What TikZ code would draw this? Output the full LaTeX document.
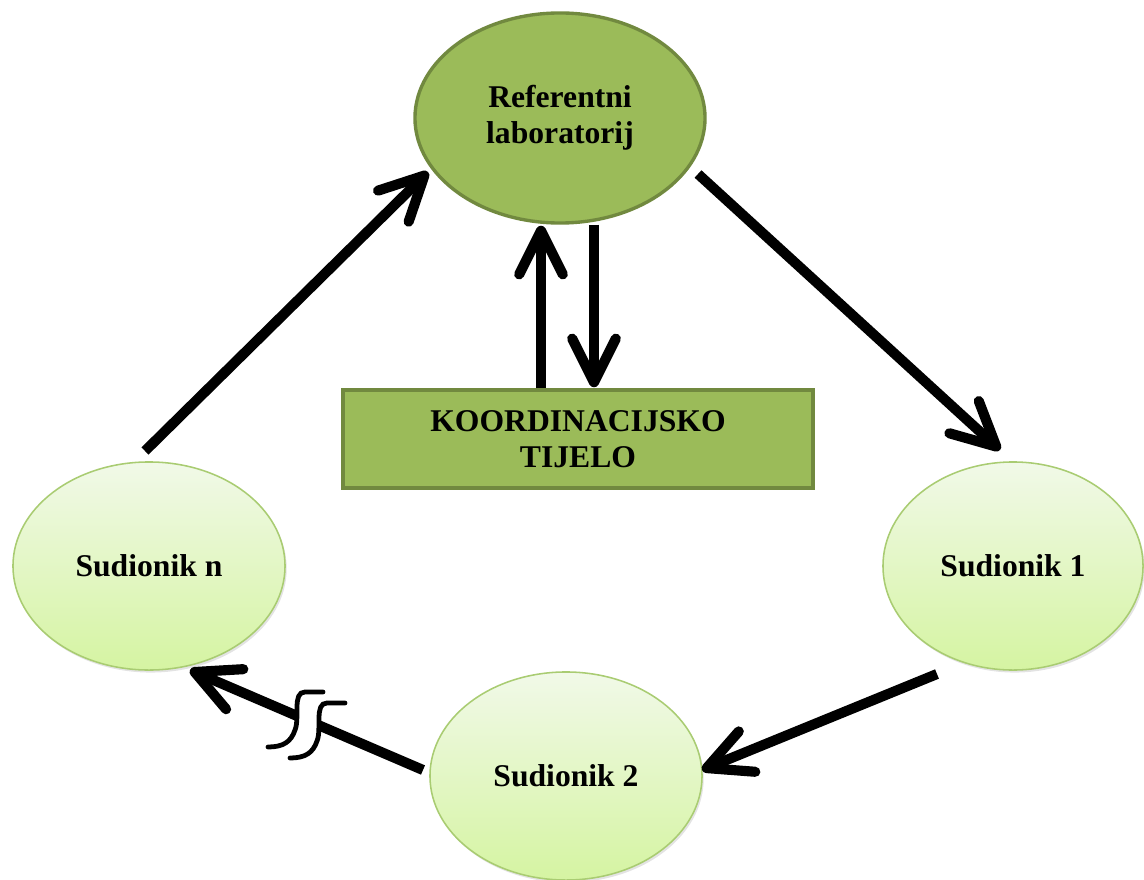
\documentclass[tikz,border=0pt]{standalone}
\usepackage{fontspec}
\setmainfont{Liberation Serif}
\usetikzlibrary{shapes.geometric,arrows.meta,shadows,calc}
\definecolor{darkfill}{HTML}{9BBB59}
\definecolor{darkline}{HTML}{71893F}
\definecolor{lighttop}{HTML}{F1F9E8}
\definecolor{lightbot}{HTML}{D5F4A2}
\definecolor{lightline}{HTML}{A9CC72}
\begin{document}
\begin{tikzpicture}[x=0.025cm,y=-0.025cm,
  lbl/.style={font=\fontsize{22.5}{25.5}\selectfont\bfseries, align=center, text=black},
  dark/.style={lbl, fill=darkfill, draw=darkline, line width=2.4pt, inner sep=0pt},
  part/.style={lbl, ellipse, inner sep=0pt, minimum width=6.8cm, minimum height=5.2cm,
    top color=lighttop, bottom color=lightbot, draw=lightline, line width=1.1pt,
    drop shadow={shadow xshift=1.2pt, shadow yshift=-1.8pt, opacity=0.22}},
  shaft/.style={line width=7.2pt},
  arr/.style={shaft, -{Straight Barb[length=31pt,width=31pt,round]}},
  brk/.style={line width=3.4pt, line cap=round}]
\useasboundingbox (0,0) rectangle (1144,880);

\node[dark, ellipse, minimum width=7.25cm, minimum height=5.25cm] (ref) at (560,118) {Referentni\\laboratorij};
\node[dark, rectangle, minimum width=11.75cm, minimum height=2.45cm] (koord) at (578,439) {KOORDINACIJSKO\\TIJELO};
\node[part] (sn) at (149,566) {Sudionik n};
\node[part, minimum width=6.5cm] (s1) at (1013,566) {Sudionik 1};
\node[part] (s2) at (566,776) {Sudionik 2};

% cycle arrows
\draw[arr] ([shift={(-4,-115)}]sn.center) -- ([shift={(-132,54)}]ref.center);
\draw[arr] ([shift={(138,56)}]ref.center) -- ([shift={(-13,-116)}]s1.center);
\draw[arr] ([shift={(-76,108)}]s1.center) -- ([shift={(136,-6)}]s2.center);

% broken arrow Sudionik 2 -> Sudionik n
\coordinate (s2out) at ([shift={(-143,-6)}]s2.center);
\coordinate (sntip) at ([shift={(41,104)}]sn.center);
\coordinate (brkR) at ($(s2out)!0.446!(sntip)$);
\coordinate (brkL) at ($(s2out)!0.541!(sntip)$);
\draw[shaft] (s2out) -- (brkR);
\draw[arr] (brkL) -- (sntip);
\draw[brk] (323,692) -- (305,692) .. controls (292,692) and (300,718) .. (295,730)
  .. controls (291,742) and (283,747) .. (268,747);
\draw[brk] (345,703) -- (327,703) .. controls (314,703) and (322,729) .. (317,741)
  .. controls (313,753) and (305,758) .. (290,758);

% coordination body arrows
\draw[arr] ([shift={(-37,0)}]koord.north) -- ([shift={(-19,1)}]ref.south);
\draw[arr] ([shift={(34,0)}]ref.south) -- ([shift={(16,-1)}]koord.north);
\end{tikzpicture}
\end{document}
